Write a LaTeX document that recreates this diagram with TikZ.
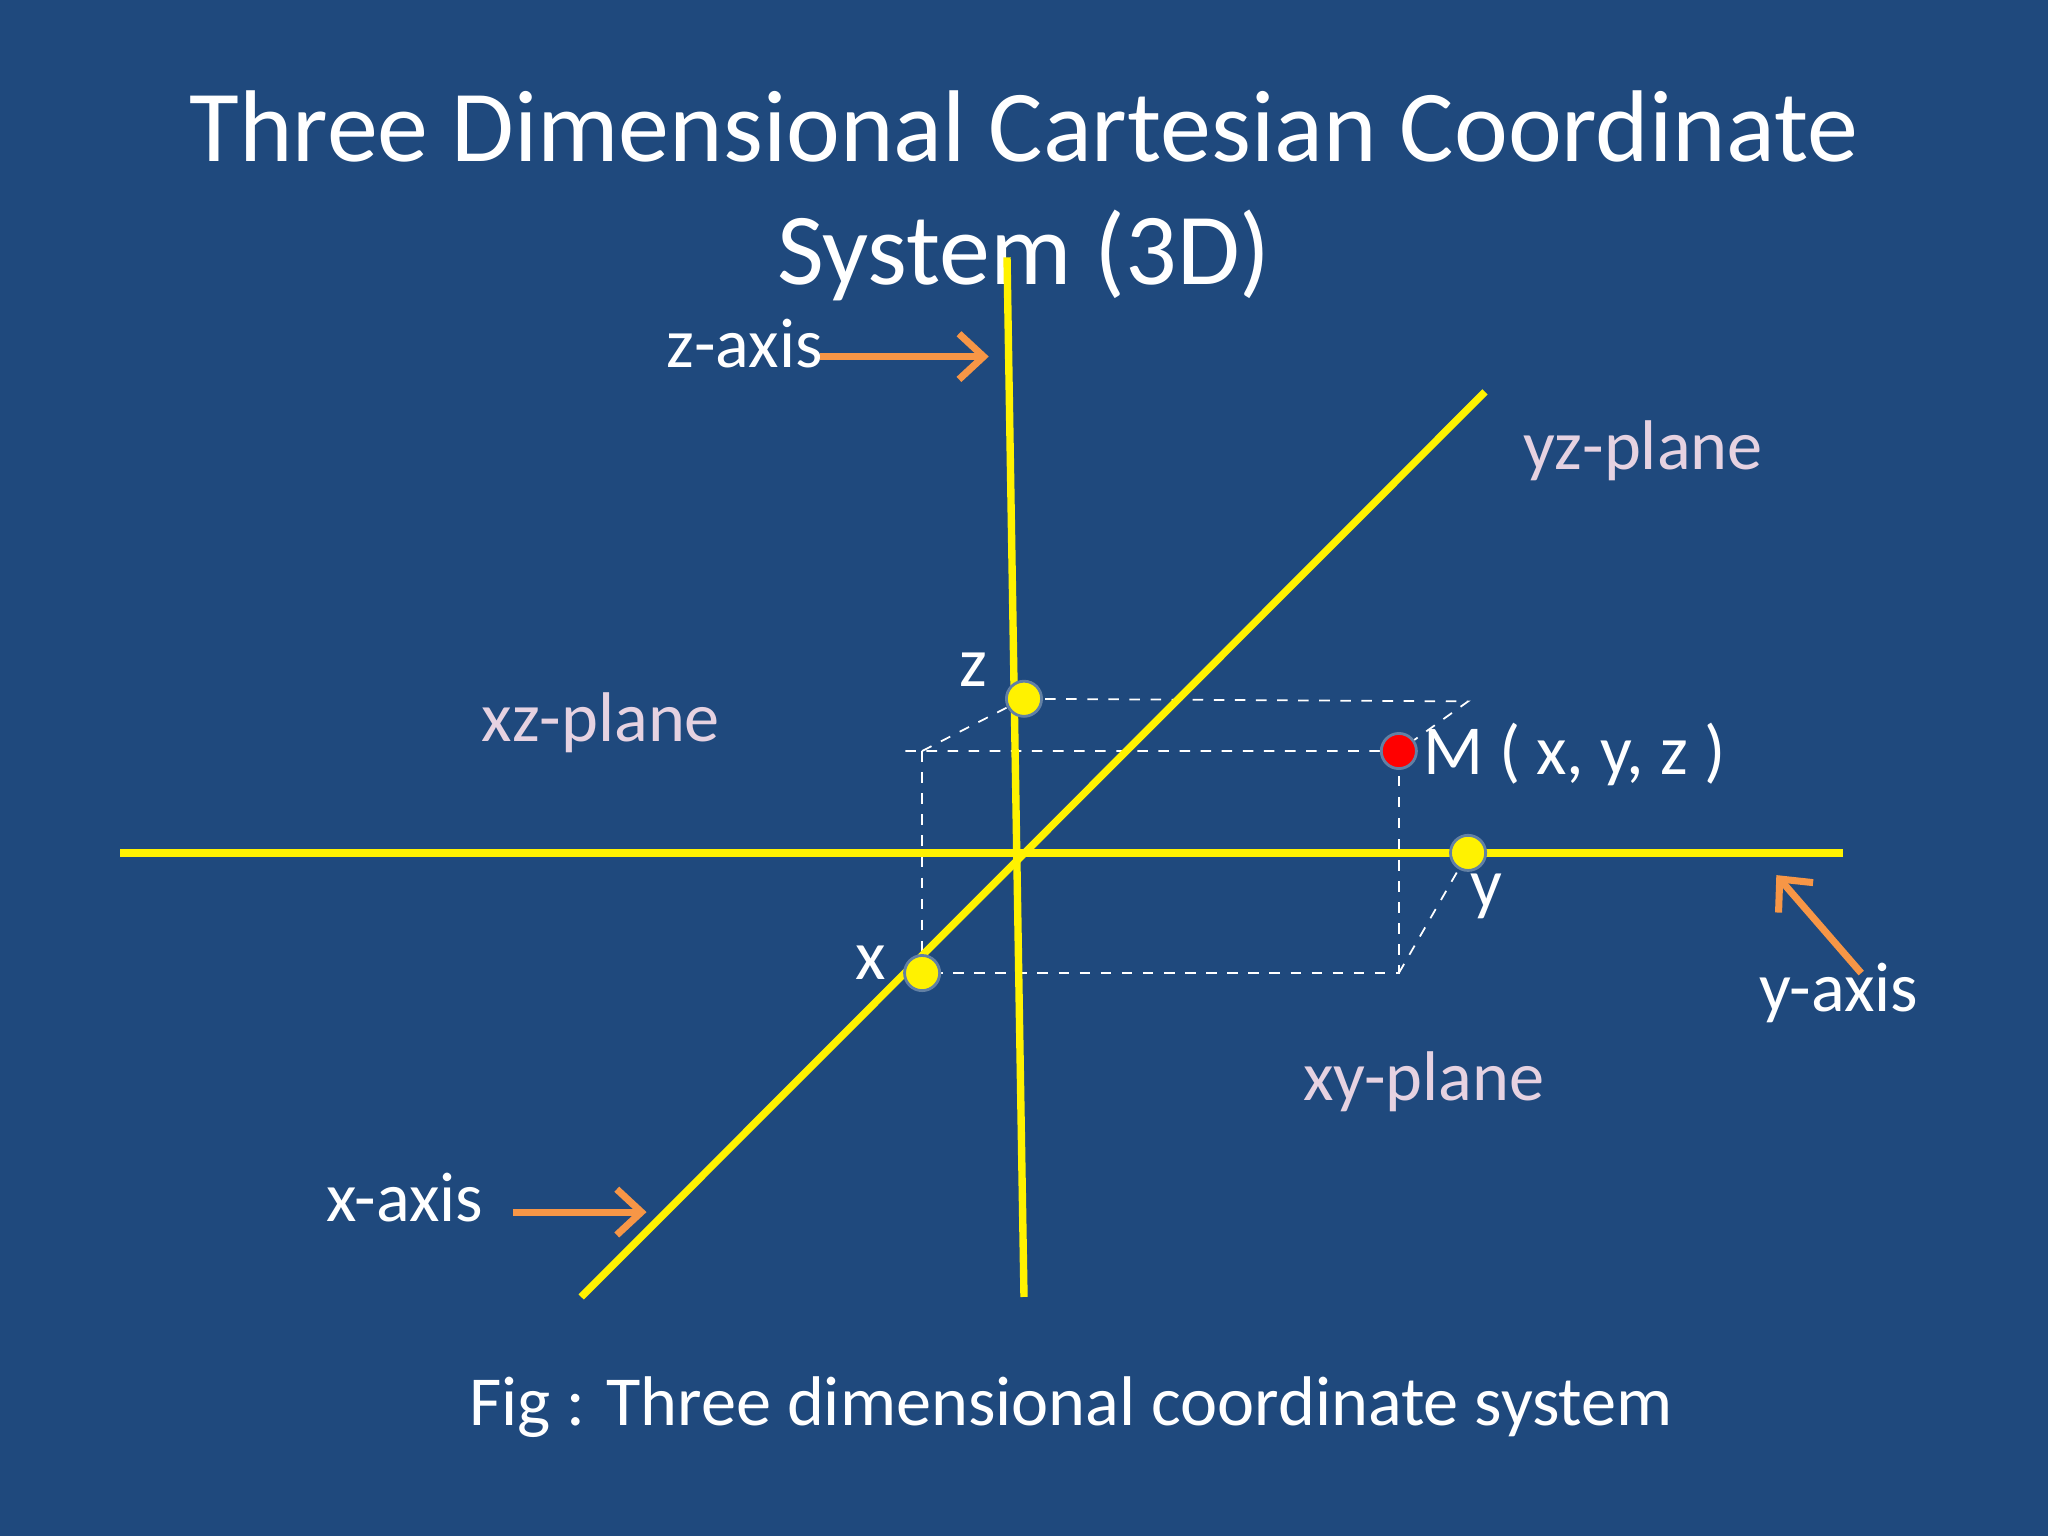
\documentclass[tikz,border=0pt]{standalone}
\usepackage{fontspec}
\usetikzlibrary{arrows.meta}
\setmainfont{Carlito}
\definecolor{bg}{RGB}{31,73,125}
\definecolor{orng}{RGB}{247,150,70}
\definecolor{pl}{RGB}{230,210,225}
\begin{document}
\begin{tikzpicture}[x=0.013061cm,y=-0.013061cm,
  ax/.style={yellow,line width=2.1pt},
  dsh/.style={white,dashed,line width=0.5pt},
  pt/.style={circle,fill=yellow,draw=bg!70!white,line width=0.8pt,inner sep=0pt,minimum size=10pt},
  arr/.style={orng,line width=2pt,-{Straight Barb[length=7pt,width=13pt]}},
  lbl/.style={white,font=\fontsize{20}{24}\selectfont},
  plane/.style={pl,font=\fontsize{20}{24}\selectfont}]
\useasboundingbox (0,0) rectangle (1568,1176);
\fill[bg] (0,0) rectangle (1568,1176);
\node[white,font=\fontsize{29}{35}\selectfont,align=center] (title) at (784,150) {Three Dimensional Cartesian Coordinate\\System (3D)};
\coordinate (za) at (771,197); \coordinate (zb) at (784,993);
\coordinate (xa) at (1137,300); \coordinate (xb) at (445,993);
\coordinate (ya) at (92,653); \coordinate (yb) at (1411,653);
\coordinate (c1) at (1124,537); \coordinate (c2) at (706,575); \coordinate (c3) at (693,575);
\coordinate (c4) at (1071,745);
\draw[dsh] (784,535) -- (c1) -- (1071,575) -- (c3);
\draw[dsh] (c2) -- (784,535);
\draw[dsh] (c2) -- (706,745) -- (c4) -- (1071,575);
\draw[dsh] (c4) -- (1124,653);
\draw[ax] (za) -- (zb);
\draw[ax] (xa) -- (xb);
\draw[ax] (ya) -- (yb);
\node[pt] (pz) at (784,535) {};
\node[pt] (px) at (706,745) {};
\node[pt] (py) at (1124,653) {};
\node[pt,fill=red] (pm) at (1071,575) {};
\node[lbl] (lz) at (745,513) {z};
\node[lbl] (lx) at (667,737) {x};
\node[lbl] (ly) at (1138,686) {y};
\node[lbl,anchor=west] (lm) at (1080,578) {M ( x, y, z )};
\node[lbl] (zax) at (570,263) {z-axis};
\node[lbl] (xax) at (310,917) {x-axis};
\node[lbl] (yax) at (1408,760) {y-axis};
\coordinate (za1) at (628,273); \coordinate (za2) at (757,273);
\coordinate (xa1) at (393,928); \coordinate (xa2) at (495,928);
\coordinate (ya1) at (1425,745); \coordinate (ya2) at (1360,670);
\draw[arr] (za1) -- (za2);
\draw[arr] (xa1) -- (xa2);
\draw[arr] (ya1) -- (ya2);
\node[plane] (yz) at (1258,345) {yz-plane};
\node[plane] (xz) at (460,553) {xz-plane};
\node[plane] (xy) at (1090,828) {xy-plane};
\node[white,font=\fontsize{20}{24}\selectfont] (cap) at (820,1077) {Fig : Three dimensional coordinate system};
\end{tikzpicture}
\end{document}
